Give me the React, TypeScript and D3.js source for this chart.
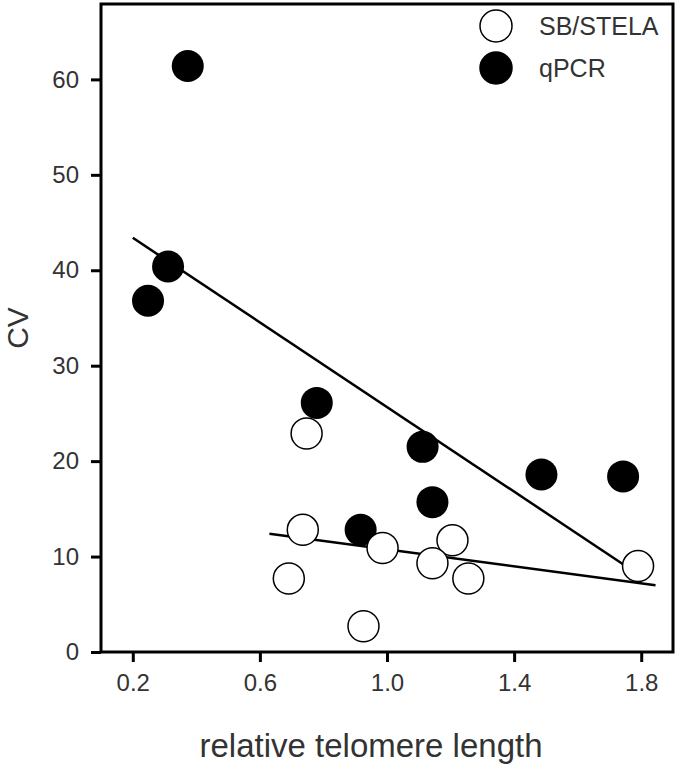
import React, { useRef, useEffect } from "react";
import * as d3 from "d3";

// relative telomere length (x) vs CV (y)
const stelaX = [0.747, 0.735, 0.691, 0.986, 1.206, 1.143, 1.256, 0.926, 1.79];
const stelaY = [22.9, 12.8, 7.7, 10.9, 11.7, 9.3, 7.7, 2.7, 9.0];
const qpcrX = [0.373, 0.311, 0.248, 0.779, 1.112, 1.143, 0.917, 1.486, 1.743];
const qpcrY = [61.4, 40.4, 36.8, 26.1, 21.5, 15.7, 12.8, 18.6, 18.4];

// regression line end points
const qpcrFitX = [0.2, 1.77];
const qpcrFitY = [43.4, 8.6];
const stelaFitX = [0.63, 1.845];
const stelaFitY = [12.4, 7.0];

const xTicks = [0.2, 0.6, 1.0, 1.4, 1.8];
const yTicks = [0, 10, 20, 30, 40, 50, 60];
const seriesNames = ["SB/STELA", "qPCR"];

const FONT = "'Liberation Sans', Arial, sans-serif";

const App = () => {
  const svgRef = useRef<SVGSVGElement>(null);

  useEffect(() => {
    document.body.style.margin = "0";

    const width = 680;
    const height = 769;
    const left = 101, right = 673, top = 4, bottom = 652;

    const svg = d3.select(svgRef.current);
    svg.selectAll("*").remove();
    svg.attr("width", width).attr("height", height);

    const x = d3.scaleLinear().domain([0.1, 1.9]).range([left, right]);
    const y = d3.scaleLinear().domain([0, 67.9]).range([bottom, top]);

    // frame
    svg.append("rect")
      .attr("x", left).attr("y", top)
      .attr("width", right - left).attr("height", bottom - top)
      .attr("fill", "white").attr("stroke", "black").attr("stroke-width", 3);

    const xAxis = svg.append("g")
      .attr("transform", `translate(0,${bottom})`)
      .call(d3.axisBottom(x).tickValues(xTicks).tickSize(10).tickSizeOuter(0)
        .tickFormat(d3.format(".1f")));
    const yAxis = svg.append("g")
      .attr("transform", `translate(${left},0)`)
      .call(d3.axisLeft(y).tickValues(yTicks).tickSize(10).tickSizeOuter(0));

    [xAxis, yAxis].forEach((ax) => {
      ax.select(".domain").remove();
      ax.selectAll(".tick line").attr("stroke", "black").attr("stroke-width", 3);
      ax.selectAll(".tick text")
        .attr("font-family", FONT).attr("font-size", 24).attr("fill", "#333");
    });
    xAxis.selectAll(".tick text").attr("y", 22);
    yAxis.selectAll(".tick text").attr("x", -22);

    // axis titles
    svg.append("text")
      .attr("x", 371).attr("y", 757)
      .attr("text-anchor", "middle")
      .attr("font-family", FONT).attr("font-size", 33).attr("fill", "#333")
      .text("relative telomere length");
    svg.append("text")
      .attr("transform", "translate(28,328) rotate(-90)")
      .attr("text-anchor", "middle")
      .attr("font-family", FONT).attr("font-size", 30).attr("fill", "#333")
      .text("CV");

    // regression lines
    const line = d3.line<[number, number]>()
      .x((d) => x(d[0])).y((d) => y(d[1]));
    [
      [qpcrFitX, qpcrFitY],
      [stelaFitX, stelaFitY],
    ].forEach(([xs, ys]) => {
      svg.append("path")
        .datum(xs.map((v, i) => [v, ys[i]] as [number, number]))
        .attr("d", line)
        .attr("fill", "none").attr("stroke", "black").attr("stroke-width", 2.5);
    });

    // qPCR points (filled)
    svg.append("g").selectAll("circle")
      .data(qpcrX.map((v, i) => [v, qpcrY[i]]))
      .enter().append("circle")
      .attr("cx", (d) => x(d[0])).attr("cy", (d) => y(d[1]))
      .attr("r", 16).attr("fill", "black");

    // SB/STELA points (open)
    svg.append("g").selectAll("circle")
      .data(stelaX.map((v, i) => [v, stelaY[i]]))
      .enter().append("circle")
      .attr("cx", (d) => x(d[0])).attr("cy", (d) => y(d[1]))
      .attr("r", 15.5).attr("fill", "white")
      .attr("stroke", "black").attr("stroke-width", 1.5);

    // legend
    const legend = svg.append("g");
    seriesNames.forEach((name, i) => {
      const cy = 26 + i * 42;
      legend.append("circle")
        .attr("cx", 496).attr("cy", cy).attr("r", 16)
        .attr("fill", i === 0 ? "white" : "black")
        .attr("stroke", "black").attr("stroke-width", 1.5);
      legend.append("text")
        .attr("x", 539).attr("y", cy + 9)
        .attr("font-family", FONT).attr("font-size", 25).attr("fill", "#333")
        .text(name);
    });
  }, []);

  return <svg ref={svgRef}></svg>;
};

export default App;
